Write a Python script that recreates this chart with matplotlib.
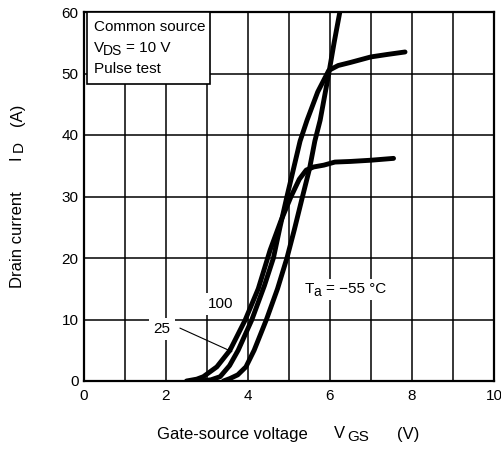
import matplotlib
matplotlib.use("Agg")
import matplotlib.pyplot as plt
from matplotlib.patches import Rectangle

plt.rcParams['font.family'] = ['Liberation Sans', 'DejaVu Sans']

# ---- data ----
vgs_100 = [2.5, 2.75, 2.91, 3.24, 3.56, 3.93, 4.25, 4.54, 4.8, 5.05, 5.25, 5.42, 5.6, 5.85, 6.12, 6.5, 7.0, 7.55]
id_100 = [0.0, 0.3, 0.7, 2.3, 5.0, 9.9, 15.0, 21.3, 26.0, 30.0, 32.8, 34.3, 34.8, 35.1, 35.6, 35.7, 35.9, 36.2]

vgs_25 = [2.85, 3.1, 3.32, 3.55, 3.76, 4.09, 4.4, 4.62, 4.78, 4.95, 5.27, 5.44, 5.7, 5.97, 6.2, 6.5, 7.0, 7.4, 7.83]
id_25 = [0.0, 0.2, 0.7, 2.5, 5.0, 9.9, 15.5, 20.0, 25.0, 30.0, 39.0, 42.4, 47.0, 50.5, 51.3, 51.8, 52.7, 53.1, 53.5]

vgs_m55 = [3.4, 3.56, 3.75, 3.95, 4.15, 4.45, 4.72, 4.95, 5.13, 5.33, 5.5, 5.63, 5.76, 5.97, 6.1, 6.24]
id_m55 = [0.0, 0.4, 1.0, 2.3, 5.0, 10.0, 15.0, 20.0, 24.6, 30.0, 34.5, 39.0, 42.4, 50.0, 55.0, 60.0]

x_ticks = [0, 2, 4, 6, 8, 10]
y_ticks = [0, 10, 20, 30, 40, 50, 60]
x_grid = [1, 2, 3, 4, 5, 6, 7, 8, 9]

W, H = 502, 450
fig = plt.figure(figsize=(W / 100, H / 100), dpi=100)
ax = fig.add_axes([84 / W, 1 - 381 / H, 410 / W, 369 / H])

ax.set_xlim(0, 10)
ax.set_ylim(0, 60)
ax.set_xticks(x_ticks)
ax.set_yticks(y_ticks)
ax.tick_params(length=0, labelsize=11, colors='black')
ax.tick_params(axis='x', pad=6)
ax.tick_params(axis='y', pad=4)
for s in ax.spines.values():
    s.set_linewidth(1.6)
    s.set_color('black')
    s.set_zorder(5)

for xv in x_grid:
    ax.axvline(xv, color='black', lw=1.1, zorder=1)
for yv in y_ticks[1:-1]:
    ax.axhline(yv, color='black', lw=1.1, zorder=1)

for xs, ys in [(vgs_100, id_100), (vgs_25, id_25), (vgs_m55, id_m55)]:
    ax.plot(xs, ys, color='black', lw=3.5, solid_joinstyle='round',
            solid_capstyle='round', zorder=4)


def fx(px):
    return px / W


def fy(py):
    return 1 - py / H


def ftext(px, py, s, size=11, **kw):
    kw.setdefault('ha', 'left')
    kw.setdefault('va', 'center')
    return fig.text(fx(px), fy(py), s, fontsize=size, **kw)


# condition box
ax.add_patch(Rectangle((0.007, 0.805), 0.300, 0.195, transform=ax.transAxes,
                       facecolor='white', edgecolor='black', lw=1.2, zorder=6))
ftext(94, 27, "Common source", zorder=7)
ftext(94, 48, "V", zorder=7)
ftext(103, 51, "DS", size=10, zorder=7)
ftext(126, 48, "= 10 V", zorder=7)
ftext(94, 69, "Pulse test", zorder=7)

wb = dict(facecolor='white', edgecolor='none', pad=3)
ax.text(3.34, 12.5, "100", fontsize=11, ha='center', va='center', bbox=wb, zorder=3)
ax.text(1.9, 8.5, "25", fontsize=11, ha='center', va='center', bbox=wb, zorder=3)
ax.annotate("", xy=(3.63, 4.7), xytext=(2.34, 8.6),
            arrowprops=dict(arrowstyle='-|>', color='black', lw=0.8,
                            mutation_scale=7, shrinkA=0, shrinkB=0), zorder=3)
# Ta label on a white patch (pixel box 302..390 x 279..300)
ax.add_patch(Rectangle(((302 - 84) / 41, (381 - 300) / 6.15), 88 / 41, 21 / 6.15,
                       facecolor='white', edgecolor='none', zorder=2))
ftext(305, 289, "T")
ftext(313, 292, "a", size=10)
ftext(326, 289, "= −55 °C")

# axis labels built from pieces
ftext(232, 434, "Gate-source voltage", size=12, ha='center')
ftext(339, 434, "V", size=12, ha='center')
ftext(358, 437, "GS", size=11, ha='center')
ftext(408, 434, "(V)", size=12, ha='center')

ftext(18, 240, "Drain current", size=12, rotation=90, ha='center')
ftext(16, 158, "I", size=12, rotation=90, ha='center')
ftext(19, 147, "D", size=11, rotation=90, ha='center')
ftext(18, 115, "(A)", size=12, rotation=90, ha='center')

fig.savefig("out.png", dpi=100)
